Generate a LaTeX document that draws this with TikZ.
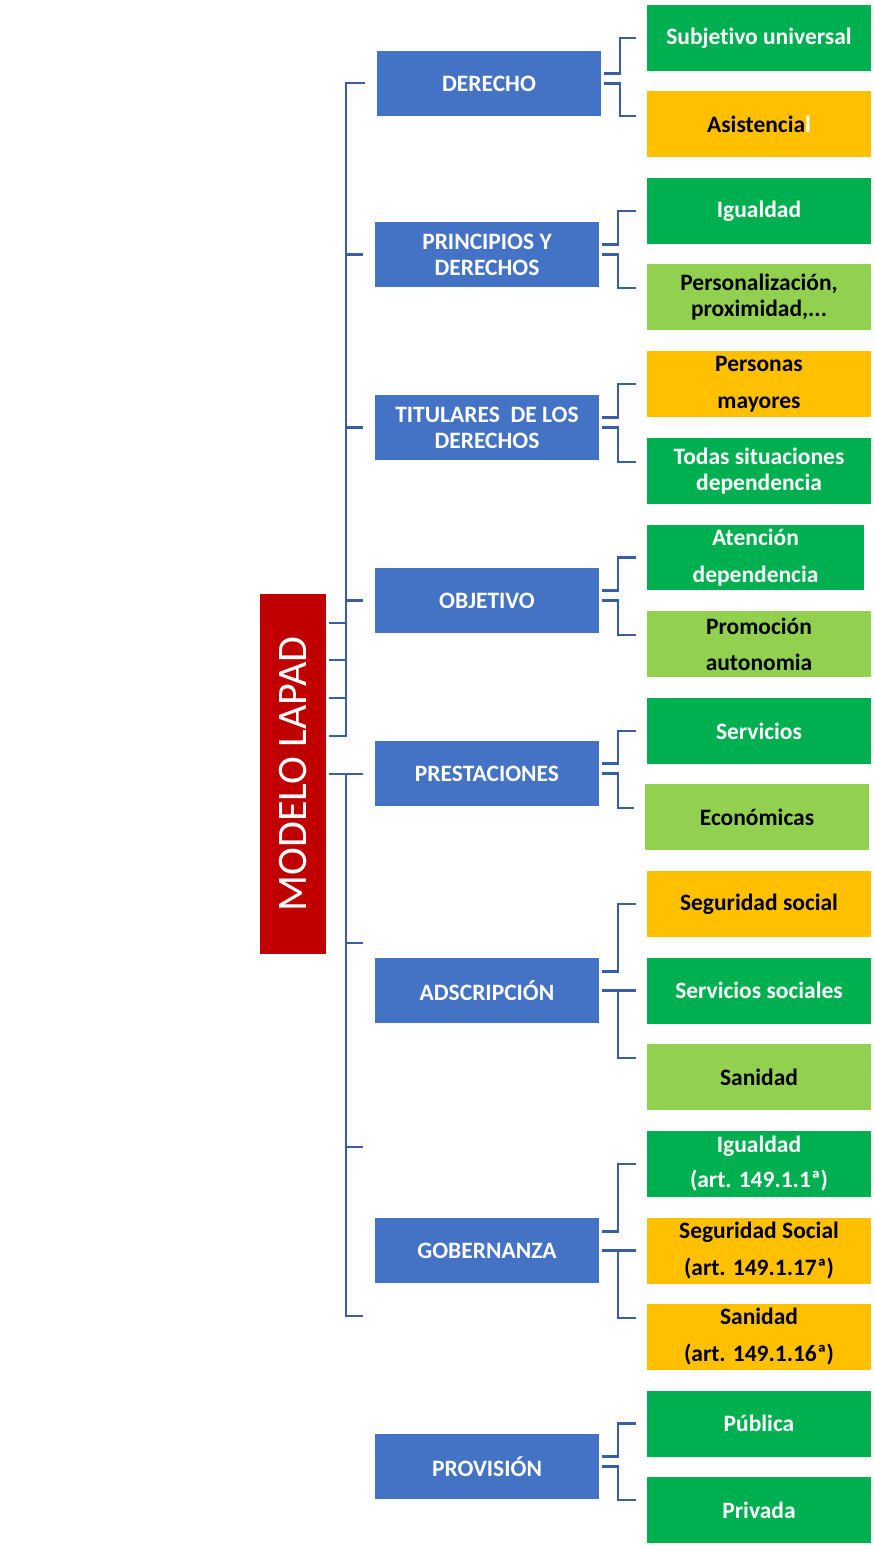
\documentclass[tikz,border=0pt]{standalone}
\usepackage{fontspec}
\setmainfont{Carlito}[Ligatures=NoCommon]
\definecolor{bl}{HTML}{4472C4}
\definecolor{gr}{HTML}{00B050}
\definecolor{og}{HTML}{FFC000}
\definecolor{lg}{HTML}{92D050}
\definecolor{rd}{HTML}{C00000}
\definecolor{ln}{HTML}{3A5EA6}
\tikzset{
  base/.style={inner sep=0pt, minimum width=224pt, minimum height=66pt, align=center,
    font=\bfseries\fontsize{23.5}{26}\selectfont},
  bluebox/.style={base, fill=bl, text=white, minimum height=65pt},
  greenbox/.style={base, fill=gr, text=white},
  orangebox/.style={base, fill=og, text=black},
  lightbox/.style={base, fill=lg, text=black},
  conn/.style={draw=ln, line width=2.4pt},
}
\begin{document}
\begin{tikzpicture}[x=1pt,y=-1pt]
\useasboundingbox (0,0) rectangle (875,1550);
% red title
\node[fill=rd, minimum width=66pt, minimum height=360pt, inner sep=0pt] (red) at (293,774) {};
\node[rotate=90, text=white, font=\fontsize{42}{46}\selectfont, inner sep=0pt] (title) at (red.center) {MODELO LAPAD};
% blue boxes
\node[bluebox] (der) at (489,83.5) {DERECHO};
\node[bluebox] (pri) at (487,254.5) {PRINCIPIOS Y\\DERECHOS};
\node[bluebox] (tit) at (487,427.5) {TITULARES\ \ DE LOS\\DERECHOS};
\node[bluebox] (obj) at (487,600.5) {OBJETIVO};
\node[bluebox] (pre) at (487,773.5) {PRESTACIONES};
\node[bluebox] (ads) at (487,990.5) {ADSCRIPCIÓN};
\node[bluebox] (gob) at (487,1250.5) {GOBERNANZA};
\node[bluebox] (pro) at (487,1466.5) {PROVISIÓN};
% right boxes
\node[greenbox] (sub) at (759,38) {Subjetivo universal};
\node[orangebox] (asi) at (759,124) {Asistencia{\color{white}l}};
\node[greenbox] (igu) at (759,211) {Igualdad};
\node[lightbox] (per) at (759,297) {Personalización,\\proximidad,...};
\node[orangebox] (pma) at (759,384) {Personas\\[11pt]mayores};
\node[greenbox] (tod) at (759,471) {Todas situaciones\\dependencia};
\node[greenbox, minimum width=217pt, minimum height=65pt] (ate) at (755.5,557.5) {Atención\\[11pt]dependencia};
\node[lightbox] (prom) at (759,644) {Promoción\\[10pt]autonomia};
\node[greenbox] (ser) at (759,731) {Servicios};
\node[lightbox] (eco) at (757,817) {Económicas};
\node[orangebox] (seg) at (759,904) {Seguridad social};
\node[greenbox] (sso) at (759,990.5) {Servicios sociales};
\node[lightbox] (san) at (759,1077) {Sanidad};
\node[greenbox] (igu2) at (759,1164) {Igualdad\\[9pt](art. 149.1.1ª)};
\node[orangebox] (segs) at (759,1250.5) {Seguridad Social\\[11pt](art. 149.1.17ª)};
\node[orangebox] (san2) at (759,1337) {Sanidad\\[11pt](art. 149.1.16ª)};
\node[greenbox] (pub) at (759,1423.5) {Pública};
\node[greenbox] (priv) at (759,1510) {Privada};
% left spine
\coordinate (s1) at (346,83);
\coordinate (s2) at (346,736);
\coordinate (s3) at (346,774);
\coordinate (s4) at (346,1316);
\draw[conn] ([xshift=-12pt]der.west |- s1) -- (s1) -- (s2) -- ([xshift=3pt]red.east |- s2);
\draw[conn] (s1 |- pri.west) -- ([xshift=-12pt]pri.west);
\draw[conn] (s1 |- tit.west) -- ([xshift=-12pt]tit.west);
\draw[conn] (s1 |- obj.west) -- ([xshift=-12pt]obj.west);
\foreach \yy/\nn in {623/a,660/b,698/c}{
  \coordinate (t\nn) at (346,\yy);
  \draw[conn] ([xshift=3pt]red.east |- t\nn) -- (t\nn);
}
\draw[conn] ([xshift=3pt]red.east |- s3) -- ([xshift=-12pt]pre.west |- s3);
\draw[conn] (s3) -- (s4) -- ([xshift=-12pt]gob.west |- s4);
\coordinate (t1) at (346,943);
\coordinate (t2) at (346,1147);
\draw[conn] (t1) -- ([xshift=-12pt]ads.west |- t1);
\draw[conn] (t2) -- ([xshift=-12pt]gob.west |- t2);
% right connectors (two children)
\foreach \p/\a/\b/\o in {der/sub/asi/8, pri/igu/per/9, tit/pma/tod/9, obj/ate/prom/9, pre/ser/eco/9, pro/pub/priv/10}{
  \draw[conn] ([shift={(3pt,10pt)}]\p.east) -- ++(16pt,0pt) |- ([xshift=-11pt]\a.west);
  \draw[conn] ([xshift=3pt]\p.east) -- ++(16pt,0pt) |- ([shift={(-11pt,\o pt)}]\b.west);
}
% right connectors (three children)
\foreach \p/\a/\m/\b in {ads/seg/sso/san, gob/igu2/segs/san2}{
  \draw[conn] ([shift={(3pt,19pt)}]\p.east) -- ++(16pt,0pt) |- ([xshift=-11pt]\a.west);
  \draw[conn] ([xshift=3pt]\p.east) -- ([xshift=-11pt]\m.west);
  \draw[conn] ([xshift=19pt]\p.east) |- ([shift={(-11pt,19pt)}]\b.west);
}
\end{tikzpicture}
\end{document}
